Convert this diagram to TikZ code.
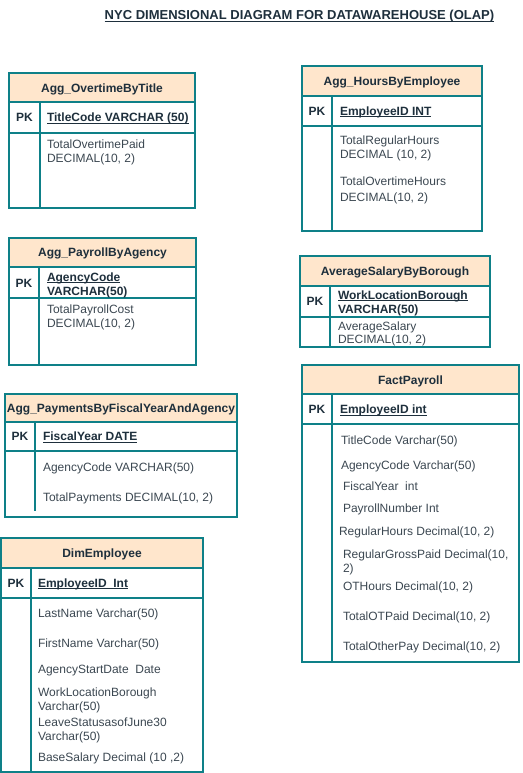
\documentclass[tikz,border=0pt]{standalone}
\usepackage{fontspec}
\setmainfont{Liberation Sans}
\newcommand{\erdul}[1]{\setbox0=\hbox{#1}\rlap{\rule[-2pt]{\wd0}{0.9pt}}\box0}
\definecolor{ErdLine}{HTML}{0E8088}
\definecolor{ErdHead}{HTML}{FFE6CC}
\definecolor{ErdInk}{HTML}{1E2F3C}
\definecolor{ErdText}{HTML}{3B4751}
\tikzset{
    erd/diagram/.style={
        x=1pt, y=-1pt,
        font=\fontsize{12}{14.5}\selectfont,
        line join=miter,
        every node/.style={inner sep=0pt, outer sep=0pt}
    },
    erd/box/.style={draw=ErdLine, line width=1.4pt},
    erd/head/.style={draw=ErdLine, fill=ErdHead, line width=1.4pt},
    erd/caption/.style={
        font=\fontsize{12}{14.5}\selectfont\bfseries, text=ErdInk,
        text height=8.8pt, text depth=0pt
    },
    erd/pk/.style={erd/caption},
    erd/key/.style={
        font=\fontsize{12}{14.5}\selectfont\bfseries, text=ErdInk,
        anchor=north west, align=left
    },
    erd/field/.style={text=ErdText, anchor=north west, align=left},
    erd/heading/.style={
        font=\fontsize{13}{15}\selectfont\bfseries, text=ErdInk,
        text height=9.4pt, text depth=0pt
    }
}

\begin{document}
\begin{tikzpicture}[erd/diagram]
    \useasboundingbox (0,0) rectangle (522,773);
    \node[erd/heading] (heading) at (299.5,15)
        {\erdul{NYC DIMENSIONAL DIAGRAM FOR DATAWAREHOUSE (OLAP)}};

    % Agg_OvertimeByTitle
    \draw[erd/box] (9,73) rectangle (195,208);
    \filldraw[erd/head] (9,73) rectangle (195,102);
    \draw[erd/box] (9,133) -- (195,133) (40,102) -- (40,208);
    \node[erd/caption] (ovt-head) at (102,88) {Agg\_OvertimeByTitle};
    \node[erd/pk] (ovt-pk) at (24.5,117.5) {PK};
    \node[erd/key] (ovt-key) at (47,113) {\erdul{TitleCode VARCHAR (50)}};
    \node[erd/field] (ovt-paid) at (47,139.5)
        {TotalOvertimePaid\\DECIMAL(10, 2)};

    % Agg_HoursByEmployee
    \draw[erd/box] (302,66) rectangle (482,231);
    \filldraw[erd/head] (302,66) rectangle (482,96);
    \draw[erd/box] (302,126) -- (482,126) (332,96) -- (332,231);
    \node[erd/caption] (hrs-head) at (392,81) {Agg\_HoursByEmployee};
    \node[erd/pk] (hrs-pk) at (317,111) {PK};
    \node[erd/key] (hrs-key) at (340,106.5) {\erdul{EmployeeID INT}};
    \node[erd/field] (hrs-regular) at (340,135.5)
        {TotalRegularHours\\DECIMAL (10, 2)};
    \node[erd/field] (hrs-overtime) at (340,176.5)
        {TotalOvertimeHours\\[1.5pt]DECIMAL(10, 2)};

    % Agg_PayrollByAgency
    \draw[erd/box] (9,238) rectangle (196,365);
    \filldraw[erd/head] (9,238) rectangle (196,267);
    \draw[erd/box] (9,298) -- (196,298) (39,267) -- (39,365);
    \node[erd/caption] (pay-head) at (102.5,252.5) {Agg\_PayrollByAgency};
    \node[erd/pk] (pay-pk) at (24,283) {PK};
    \node[erd/key] (pay-key) at (47,272.5) {\erdul{AgencyCode}\\VARCHAR(50)};
    \node[erd/field] (pay-cost) at (47,304.5)
        {TotalPayrollCost\\DECIMAL(10, 2)};

    % AverageSalaryByBorough
    \draw[erd/box] (300,256) rectangle (490,347);
    \filldraw[erd/head] (300,256) rectangle (490,286);
    \draw[erd/box] (300,317) -- (490,317) (330,286) -- (330,347);
    \node[erd/caption] (avg-head) at (395,271) {AverageSalaryByBorough};
    \node[erd/pk] (avg-pk) at (315,301.5) {PK};
    \node[erd/key] (avg-key) at (338,290.5)
        {\erdul{WorkLocationBorough}\\VARCHAR(50)};
    \node[erd/field] (avg-salary) at (338,321.5)
        {AverageSalary\\[-1.5pt]DECIMAL(10, 2)};

    % Agg_PaymentsByFiscalYearAndAgency
    \draw[erd/box] (5,394) rectangle (237,517);
    \filldraw[erd/head] (5,394) rectangle (237,422);
    \draw[erd/box] (5,451) -- (237,451) (35,422) -- (35,511);
    \node[erd/caption] (fis-head) at (121,408)
        {Agg\_PaymentsByFiscalYearAndAgency};
    \node[erd/pk] (fis-pk) at (20,436.5) {PK};
    \node[erd/key] (fis-key) at (43,432) {\erdul{FiscalYear DATE}};
    \node[erd/field] (fis-agency) at (43,462.5) {AgencyCode VARCHAR(50)};
    \node[erd/field] (fis-total) at (43,492.5) {TotalPayments DECIMAL(10, 2)};

    % FactPayroll
    \draw[erd/box] (302,365) rectangle (519,662);
    \filldraw[erd/head] (302,365) rectangle (519,394);
    \draw[erd/box] (302,424) -- (519,424) (332,394) -- (332,662);
    \node[erd/caption] (fact-head) at (410.5,380) {FactPayroll};
    \node[erd/pk] (fact-pk) at (317,409.5) {PK};
    \node[erd/key] (fact-key) at (340,405) {\erdul{EmployeeID int}};
    \node[erd/field] (fact-title) at (341,435.5) {TitleCode Varchar(50)};
    \node[erd/field] (fact-agency) at (341,460.5) {AgencyCode Varchar(50)};
    \node[erd/field] (fact-year) at (343,481.5) {FiscalYear\ \ int};
    \node[erd/field] (fact-number) at (343,503.5) {PayrollNumber Int};
    \node[erd/field] (fact-reghrs) at (339,526.5) {RegularHours Decimal(10, 2)};
    \node[erd/field] (fact-gross) at (343,549.5)
        {RegularGrossPaid Decimal(10,\\2)};
    \node[erd/field] (fact-othrs) at (343,581.5) {OTHours Decimal(10, 2)};
    \node[erd/field] (fact-otpaid) at (343,611.5) {TotalOTPaid Decimal(10, 2)};
    \node[erd/field] (fact-other) at (343,641.5) {TotalOtherPay Decimal(10, 2)};

    % DimEmployee
    \draw[erd/box] (1,538) rectangle (203,772);
    \filldraw[erd/head] (1,538) rectangle (203,568);
    \draw[erd/box] (1,598) -- (203,598) (31,568) -- (31,772);
    \node[erd/caption] (emp-head) at (102,553) {DimEmployee};
    \node[erd/pk] (emp-pk) at (16,583) {PK};
    \node[erd/key] (emp-key) at (38,578.5) {\erdul{EmployeeID\_Int}};
    \node[erd/field] (emp-last) at (38,608.5) {LastName Varchar(50)};
    \node[erd/field] (emp-first) at (38,638.5) {FirstName Varchar(50)};
    \node[erd/field] (emp-start) at (38,665.5) {AgencyStartDate\ \ Date};
    \node[erd/field] (emp-borough) at (38,687.5)
        {WorkLocationBorough\\[-0.5pt]Varchar(50)};
    \node[erd/field] (emp-leave) at (38,717.5)
        {LeaveStatusasofJune30\\[-0.5pt]Varchar(50)};
    \node[erd/field] (emp-salary) at (38,752.5) {BaseSalary Decimal (10 ,2)};
\end{tikzpicture}
\end{document}
